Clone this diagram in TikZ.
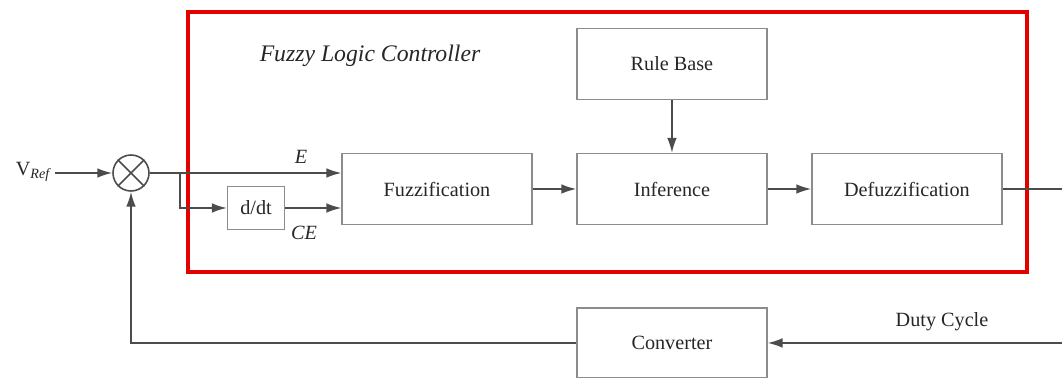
\documentclass[tikz,border=0pt]{standalone}
\usepackage{fontspec}
\setmainfont{Liberation Serif}
\usetikzlibrary{positioning, arrows.meta, calc}

\begin{document}
\begin{tikzpicture}[x=0.02cm, y=-0.02cm, node distance=4.7cm, on grid, auto,
    >={Latex[length=8.5pt,width=5.5pt]},
    block/.style={draw=black!45, line width=0.8pt, minimum width=3.8cm, minimum height=1.42cm,
        text=black!85, font=\fontsize{11.5}{13}\selectfont},
    wire/.style={draw=black!70, line width=0.9pt},
    lbl/.style={text=black!85, font=\fontsize{11.5}{13}\selectfont}]
    \useasboundingbox (0,0) rectangle (1062,378);

    % controller frame
    \draw[red!90!black, line width=1.8pt] (188,12) rectangle (1027,272);
    \node[lbl, font=\itshape\fontsize{13.5}{15}\selectfont] (title) at (370,56) {Fuzzy Logic Controller};

    \node[block] (fuzz) at (437,189) {Fuzzification};
    \node[block] (inf) [right=of fuzz] {Inference};
    \node[block] (defuzz) [right=of inf] {Defuzzification};
    \node[block] (rule) [above=2.5cm of inf] {Rule Base};
    \node[block, minimum height=1.4cm] (conv) [below=3.08cm of inf] {Converter};
    \node[block, minimum width=1.14cm, minimum height=0.86cm] (diff) at (256,208) {d/dt};
    \node[draw=black!70, circle, line width=0.9pt, minimum size=0.72cm] (sum) at (131,173) {};
    \draw[black!70, line width=0.9pt] (sum.north west) -- (sum.south east)
        (sum.north east) -- (sum.south west);

    \node[lbl] (vref) at (33,172) {V$_{\mathit{Ref}}$};
    \coordinate (vin) at (55,173);
    \coordinate (split) at (180,173);
    \coordinate (out) at (1062,189);
    \coordinate (duty) at (1062,343);

    \draw[wire,->] (vin) -- (sum.west);
    \draw[wire,->] (sum.east) -- (sum -| fuzz.west);
    \draw[wire,->] (split) |- (diff.west);
    \draw[wire,->] (diff.east) -- (diff -| fuzz.west);
    \draw[wire,->] (fuzz) -- (inf);
    \draw[wire,->] (inf) -- (defuzz);
    \draw[wire,->] (rule) -- (inf);
    \draw[wire] (defuzz.east) -- (out);
    \draw[wire,->] (duty) -- (conv.east);
    \draw[wire,->] (conv.west) -| (sum.south);

    \node[lbl, font=\itshape\fontsize{11.5}{13}\selectfont] (e) at (301,157) {E};
    \node[lbl, font=\itshape\fontsize{11.5}{13}\selectfont] (ce) at (304,233) {CE};
    \node[lbl] (dc) at (942,322) {Duty Cycle};
\end{tikzpicture}
\end{document}
